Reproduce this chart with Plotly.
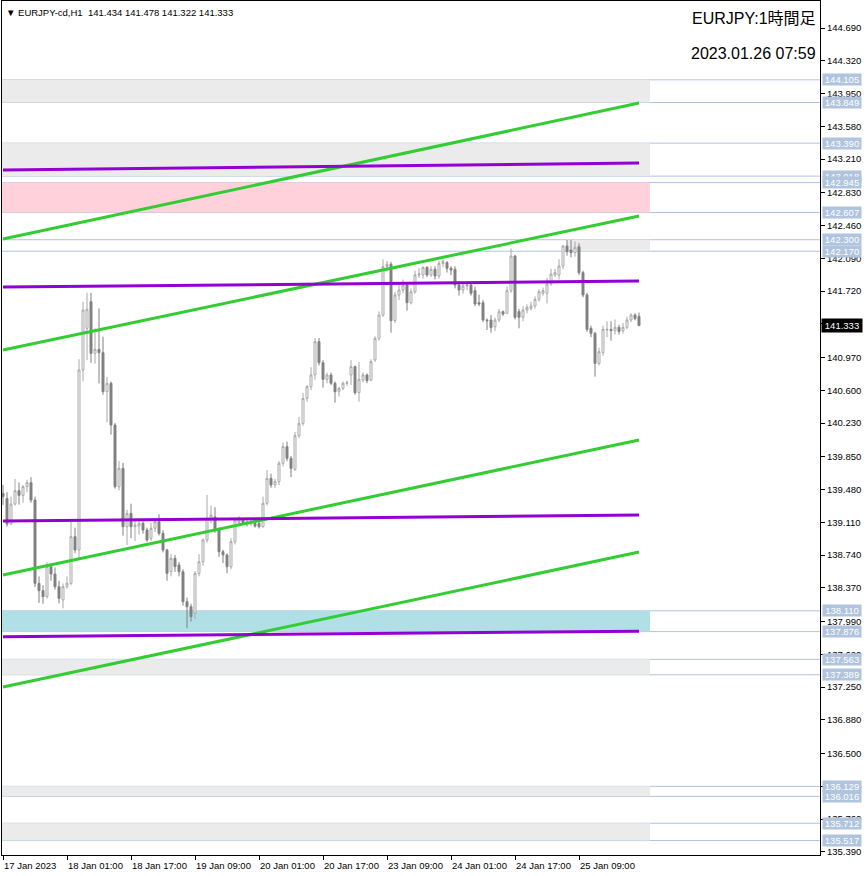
import plotly.graph_objects as go

# ---------------- data ----------------
opens = [139.437,139.380,139.091,139.316,139.467,139.414,139.512,139.557,139.361,138.421,
         138.338,138.270,138.609,138.526,138.383,138.233,138.383,138.421,138.948,138.797,
         140.829,141.300,141.600,141.017,141.062,141.025,140.585,140.679,140.208,139.512,
         139.719,139.060,139.211,139.060,139.068,139.098,139.023,138.929,139.042,139.117,
         138.985,138.797,138.552,138.703,138.628,138.552,138.214,138.157,138.082,138.534,
         138.665,138.910,139.155,139.170,139.023,138.778,138.741,138.609,138.891,139.106,
         139.136,139.079,139.091,139.098,139.098,139.060,139.324,139.606,139.531,139.568,
         139.776,139.964,139.832,139.708,140.088,140.227,140.509,140.641,140.773,141.149,
         140.912,140.724,140.773,140.679,140.584,140.622,140.679,140.773,140.867,140.573,
         140.716,140.773,140.716,140.942,141.187,141.450,141.996,142.022,141.386,141.676,
         141.732,141.789,141.589,141.713,141.902,141.902,141.988,141.902,141.966,141.890,
         142.033,142.041,141.977,141.966,141.789,141.732,141.777,141.789,141.725,141.589,
         141.589,141.394,141.394,141.318,141.394,141.488,141.469,141.725,142.116,141.488,
         141.424,141.507,141.525,141.552,141.627,141.695,141.695,141.800,141.902,141.902,
         142.003,142.229,142.184,142.154,142.221,141.928,141.676,141.300,141.243,140.904,
         141.025,141.281,141.288,141.273,141.311,141.273,141.311,141.394,141.450,141.434]
highs = [139.531,139.450,139.400,139.600,139.560,139.530,139.590,139.620,139.400,138.500,
         138.400,138.660,138.640,138.600,138.450,138.420,138.500,139.120,139.050,140.950,
         141.600,141.702,141.700,141.300,141.525,141.205,140.750,140.700,140.230,139.800,
         139.780,139.250,139.320,139.150,139.140,139.120,139.050,139.100,139.160,139.200,
         139.020,138.810,138.750,138.740,138.660,138.580,138.260,138.190,138.560,138.750,
         138.930,139.420,139.300,139.280,139.050,138.800,138.760,138.930,139.160,139.180,
         139.160,139.150,139.140,139.120,139.130,139.400,139.700,139.660,139.600,139.800,
         140.010,140.020,139.860,140.130,140.300,140.570,140.660,140.860,141.190,141.190,
         140.940,140.800,140.800,140.700,140.640,140.700,140.710,140.940,140.880,140.920,
         140.800,140.790,140.950,141.210,141.490,142.079,142.060,142.050,141.710,141.800,
         141.850,141.810,141.750,141.950,141.980,142.000,142.000,142.000,142.000,142.060,
         142.070,142.060,142.000,142.000,141.830,141.800,141.820,141.800,141.770,141.680,
         141.620,141.410,141.450,141.420,141.520,141.500,141.770,142.203,142.130,141.520,
         141.550,141.570,141.600,141.660,141.740,141.760,141.870,141.970,141.970,142.080,
         142.240,142.297,142.297,142.280,142.260,141.950,141.700,141.330,141.260,141.080,
         141.330,141.380,141.380,141.400,141.340,141.360,141.430,141.470,141.470,141.478]
lows = [139.305,139.060,139.080,139.300,139.310,139.330,139.450,139.330,138.380,138.200,
        138.190,138.250,138.450,138.350,138.195,138.139,138.360,138.400,138.760,138.700,
        140.700,140.940,140.910,140.900,140.679,140.550,140.240,140.100,139.490,139.470,
        138.960,138.854,138.930,138.900,138.970,138.980,138.890,138.900,139.000,138.960,
        138.770,138.450,138.500,138.550,138.500,138.170,137.913,137.990,138.020,138.500,
        138.620,138.880,139.100,138.990,138.720,138.650,138.534,138.580,138.860,139.080,
        139.080,139.060,139.070,139.050,139.040,139.050,139.300,139.500,139.500,139.530,
        139.740,139.800,139.620,139.690,140.060,140.200,140.470,140.600,140.720,140.880,
        140.630,140.680,140.660,140.460,140.530,140.600,140.650,140.660,140.550,140.472,
        140.690,140.680,140.700,140.920,141.160,141.430,141.950,141.251,141.360,141.620,
        141.700,141.499,141.570,141.690,141.870,141.860,141.880,141.880,141.850,141.860,
        141.990,141.930,141.900,141.750,141.670,141.690,141.730,141.670,141.550,141.550,
        141.370,141.280,141.250,141.270,141.370,141.440,141.460,141.700,141.400,141.300,
        141.380,141.470,141.500,141.520,141.600,141.670,141.580,141.780,141.880,141.850,
        141.970,142.120,142.100,142.110,141.900,141.650,141.260,141.200,140.754,140.880,
        140.990,141.200,141.160,141.230,141.230,141.240,141.290,141.370,141.390,141.322]
closes = [139.399,139.091,139.316,139.467,139.414,139.512,139.557,139.361,138.421,138.338,
          138.270,138.609,138.526,138.383,138.251,138.383,138.421,138.948,138.797,140.829,
          141.506,141.514,141.017,141.062,141.025,140.585,140.679,140.208,139.512,139.719,
          139.060,139.211,139.060,139.079,139.098,139.023,138.910,139.042,139.117,138.985,
          138.797,138.534,138.703,138.609,138.552,138.214,138.157,138.045,138.534,138.665,
          138.910,139.155,139.192,139.023,138.778,138.741,138.609,138.891,139.136,139.136,
          139.106,139.117,139.106,139.068,139.060,139.324,139.606,139.531,139.568,139.776,
          139.964,139.832,139.719,140.088,140.227,140.509,140.641,140.773,141.149,140.912,
          140.724,140.773,140.679,140.584,140.622,140.679,140.686,140.867,140.573,140.724,
          140.773,140.709,140.923,141.187,141.450,141.996,142.022,141.386,141.676,141.732,
          141.789,141.589,141.713,141.902,141.913,141.988,141.902,141.966,141.890,142.033,
          142.052,141.977,141.958,141.789,141.732,141.777,141.789,141.695,141.574,141.574,
          141.394,141.386,141.307,141.394,141.488,141.461,141.725,142.116,141.424,141.424,
          141.507,141.537,141.552,141.627,141.713,141.725,141.800,141.913,141.928,142.003,
          142.229,142.165,142.154,142.214,141.928,141.676,141.288,141.243,140.904,141.036,
          141.288,141.288,141.273,141.311,141.262,141.311,141.394,141.450,141.412,141.333]

bar_idx = list(range(len(closes)))

x_tick_idx = [0, 16, 32, 48, 64, 80, 96, 112, 128, 144]
x_tick_labels = ["17 Jan 2023", "18 Jan 01:00", "18 Jan 17:00", "19 Jan 09:00",
                 "20 Jan 01:00", "20 Jan 17:00", "23 Jan 09:00", "24 Jan 01:00",
                 "24 Jan 17:00", "25 Jan 09:00"]

y_ticks = [144.690, 144.320, 143.950, 143.580, 143.210, 142.830, 142.460, 142.090,
           141.720, 141.350, 140.970, 140.600, 140.230, 139.850, 139.480, 139.110,
           138.740, 138.370, 137.990, 137.620, 137.250, 136.880, 136.500, 136.130,
           135.760, 135.390]

# horizontal zones: (upper, lower, fill, start bar)
zone_upper = [144.105, 143.390, 142.945, 142.300, 138.110, 137.563, 136.129, 135.712]
zone_lower = [143.849, 143.018, 142.607, 142.170, 137.876, 137.389, 136.016, 135.517]
zone_fill = ["#EBEBEB", "#EBEBEB", "#FFD1DA", "#EBEBEB", "#B0E0E6", "#EBEBEB", "#EBEBEB", "#EBEBEB"]
zone_start = [None, None, None, 141, None, None, None, None]

# trend lines: start (bar 0) and end (bar 159)
green_start = [142.308, 141.055, 138.515, 137.250]
green_end = [143.843, 142.568, 140.039, 138.774]
purple_start = [143.087, 141.766, 139.124, 137.819]
purple_end = [143.166, 141.834, 139.192, 137.880]
line_x = [0, 159]

last_price = 141.333
header = "▼ EURJPY-cd,H1  141.434 141.478 141.322 141.333"
title1 = "EURJPY:1時間足"
title2 = "2023.01.26 07:59"

# ---------------- figure ----------------
FONT = "Liberation Sans, Arial, Noto Sans CJK JP, sans-serif"
X_LEFT, X_RIGHT = -0.25, 204.25
ZONE_END = 161.75

fig = go.Figure()

shapes = []
for up, lo, fc, st in zip(zone_upper, zone_lower, zone_fill, zone_start):
    shapes.append(dict(type="rect", xref="x", yref="y", x0=X_LEFT if st is None else st,
                       x1=ZONE_END, y0=lo, y1=up, fillcolor=fc, line_width=0, layer="below"))
for lvl in zone_upper + zone_lower:
    shapes.append(dict(type="line", xref="paper", yref="y", x0=0, x1=1, y0=lvl, y1=lvl,
                       line=dict(color="#B0C4DE", width=1), layer="below"))

fig.add_trace(go.Candlestick(
    x=bar_idx, open=opens, high=highs, low=lows, close=closes,
    increasing=dict(line=dict(color="#A8A8A8", width=1), fillcolor="#FFFFFF"),
    decreasing=dict(line=dict(color="#808080", width=1), fillcolor="#808080"),
    whiskerwidth=0, showlegend=False, hoverinfo="skip"))

for s, e in zip(green_start, green_end):
    fig.add_trace(go.Scatter(x=line_x, y=[s, e], mode="lines",
                             line=dict(color="#32CD32", width=3), showlegend=False, hoverinfo="skip"))
for s, e in zip(purple_start, purple_end):
    fig.add_trace(go.Scatter(x=line_x, y=[s, e], mode="lines",
                             line=dict(color="#9400D3", width=3), showlegend=False, hoverinfo="skip"))

annotations = []
# x labels, left-aligned at their ticks
for xi, lab in zip(x_tick_idx, x_tick_labels):
    annotations.append(dict(x=xi, y=0, xref="x", yref="paper", text=lab, showarrow=False,
                            xanchor="left", yanchor="top", yshift=-3, xshift=-1,
                            font=dict(family=FONT, size=9.5, color="black")))
# price labels of the zone lines
label_levels = [144.105, 143.849, 143.390, 143.018, 142.945, 142.607, 142.300, 142.170,
                138.110, 137.876, 137.563, 137.389, 136.129, 136.016, 135.712, 135.517]
for lvl in label_levels:
    annotations.append(dict(x=1, y=lvl, xref="paper", yref="y", text=f"{lvl:.3f}",
                            showarrow=False, xanchor="left", yanchor="middle", xshift=2,
                            bgcolor="#B0C4DE", borderpad=0, width=38, align="center",
                            font=dict(family=FONT, size=9.5, color="white")))
annotations.append(dict(x=1, y=last_price, xref="paper", yref="y", text=f"{last_price:.3f}",
                        showarrow=False, xanchor="left", yanchor="middle", xshift=1,
                        bgcolor="black", borderpad=1, width=38, align="center",
                        font=dict(family=FONT, size=9.5, color="white")))
annotations.append(dict(x=0, y=1, xref="paper", yref="paper", text=header, showarrow=False,
                        xanchor="left", yanchor="top", xshift=2, yshift=-4,
                        font=dict(family=FONT, size=9.5, color="black")))
annotations.append(dict(x=1, y=1, xref="paper", yref="paper", text=title1, showarrow=False,
                        xanchor="right", yanchor="top", xshift=-2, yshift=-7,
                        font=dict(family=FONT, size=16, color="black")))
annotations.append(dict(x=1, y=1, xref="paper", yref="paper", text=title2, showarrow=False,
                        xanchor="right", yanchor="top", xshift=-2, yshift=-42,
                        font=dict(family=FONT, size=16, color="black")))

fig.update_layout(
    width=866, height=876,
    margin=dict(l=2, r=46, t=1, b=21, autoexpand=False),
    paper_bgcolor="white", plot_bgcolor="white",
    shapes=shapes, annotations=annotations,
    showlegend=False,
    xaxis=dict(range=[X_LEFT, X_RIGHT], rangeslider=dict(visible=False),
               showgrid=False, zeroline=False, showline=True, mirror=True,
               linecolor="black", linewidth=1, ticks="outside", ticklen=4,
               tickcolor="black", tickvals=x_tick_idx, showticklabels=False),
    yaxis=dict(range=[135.354, 144.995], side="right", showgrid=False, zeroline=False,
               showline=True, mirror=True, linecolor="black", linewidth=1,
               ticks="outside", ticklen=4, tickcolor="black",
               tickvals=y_ticks, ticktext=[f"{v:.3f}" for v in y_ticks],
               tickfont=dict(family=FONT, size=9.5, color="black")),
)

fig.write_html("out.html", config={"displayModeBar": False},
               post_script="document.body.style.margin='0';document.body.style.overflow='hidden';")
